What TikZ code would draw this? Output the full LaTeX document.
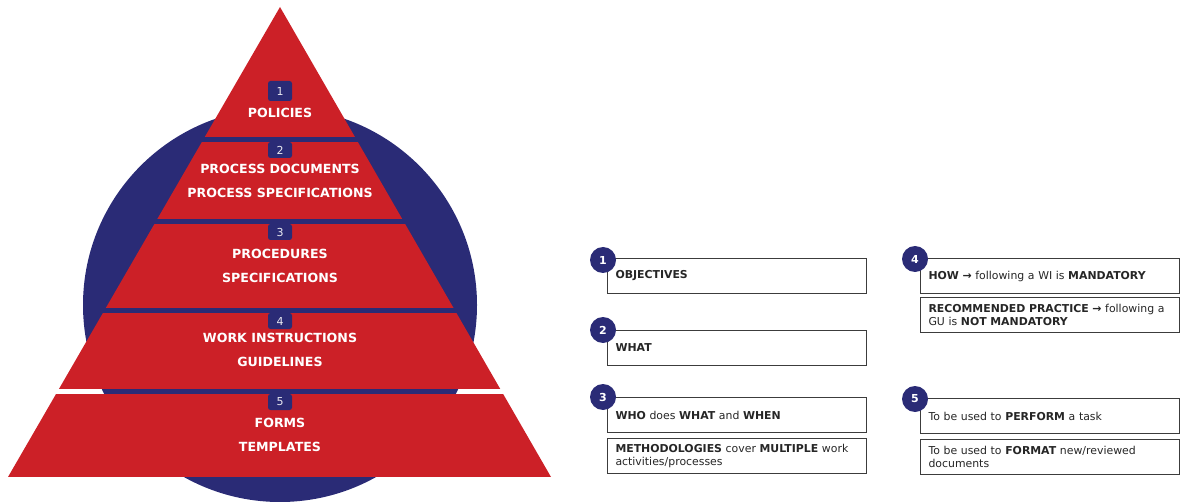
\documentclass[tikz,border=0pt]{standalone}
\usepackage{fontspec}
\setmainfont{DejaVu Sans}
\usetikzlibrary{calc}
\definecolor{pyrred}{RGB}{204,32,39}
\definecolor{pyrnavy}{RGB}{42,43,118}
\definecolor{boxline}{RGB}{60,60,60}
\tikzset{
	levelnum/.style={fill=pyrnavy, text=white!90!pyrnavy, rounded corners=2.5pt, minimum width=24pt, minimum height=16pt, inner sep=0pt, font=\fontsize{11}{13}\selectfont},
	leveltext/.style={text=white, inner sep=0pt, font=\fontsize{12.6}{15}\selectfont\bfseries},
	numdot/.style={circle, fill=pyrnavy, text=white, minimum size=26pt, inner sep=0pt, font=\fontsize{11}{13}\selectfont\bfseries},
	infobox/.style={draw=boxline, line width=1pt, fill=white, anchor=north west, minimum height=35pt, text width=243pt, inner xsep=8pt, inner ysep=2pt, align=left, text=black!85, font=\fontsize{10.9}{13}\selectfont}
}

\begin{document}
\begin{tikzpicture}[x=1pt, y=-1pt]
			%%%%% START %%%%%
			\useasboundingbox (0,0) rectangle (1182,502);
			
			\fill[pyrnavy] (280,305) circle (197pt);
			
			\begin{scope}
				\clip (280,7) -- (8,477) -- (551,477) -- cycle;
				\fill[pyrred] (0,0) rectangle (600,137);
				\fill[pyrred] (0,142) rectangle (600,219);
				\fill[pyrred] (0,224) rectangle (600,308);
				\fill[pyrred] (0,313) rectangle (600,389);
				\fill[pyrred] (0,394) rectangle (600,477);
			\end{scope}
			
			\node[levelnum, minimum height=20pt] (lv1) at (280,91) {1};
			\node[leveltext] (policies) at (280,113) {POLICIES};
			
			\node[levelnum] (lv2) at (280,150) {2};
			\node[leveltext] (procdoc) at (280,169) {PROCESS DOCUMENTS};
			\node[leveltext] (procspec) at (280,193) {PROCESS SPECIFICATIONS};
			
			\node[levelnum] (lv3) at (280,232) {3};
			\node[leveltext] (procedures) at (280,254) {PROCEDURES};
			\node[leveltext] (specs) at (280,278) {SPECIFICATIONS};
			
			\node[levelnum] (lv4) at (280,321) {4};
			\node[leveltext] (workinst) at (280,338) {WORK INSTRUCTIONS};
			\node[leveltext] (guides) at (280,362) {GUIDELINES};
			
			\node[levelnum] (lv5) at (280,402) {5};
			\node[leveltext] (forms) at (280,423) {FORMS};
			\node[leveltext] (templates) at (280,447) {TEMPLATES};
			
			% left column
			\node[infobox] (obj) at (607,258) {\textbf{OBJECTIVES}};
			\node[infobox] (what) at (607,330) {\textbf{WHAT}};
			\node[infobox] (who) at (607,397) {\textbf{WHO} does \textbf{WHAT} and \textbf{WHEN}};
			\node[infobox] (meth) at (607,438) {\textbf{METHODOLOGIES} cover \textbf{MULTIPLE} work\\activities/processes};
			
			% right column
			\node[infobox] (how) at (920,258) {\textbf{HOW →} following a WI is \textbf{MANDATORY}};
			\node[infobox] (rec) at (920,297) {\textbf{RECOMMENDED PRACTICE →} following a\\GU is \textbf{NOT MANDATORY}};
			\node[infobox] (perf) at (920,398) {To be used to \textbf{PERFORM} a task};
			\node[infobox] (fmt) at (920,439) {To be used to \textbf{FORMAT} new/reviewed\\documents};
			
			\node[numdot] (d1) at (603,260) {1};
			\node[numdot] (d2) at (603,330) {2};
			\node[numdot] (d3) at (603,397) {3};
			\node[numdot] (d4) at (915,259) {4};
			\node[numdot] (d5) at (915,399) {5};
			
			%%%%% END %%%%%
		\end{tikzpicture}
\end{document}
